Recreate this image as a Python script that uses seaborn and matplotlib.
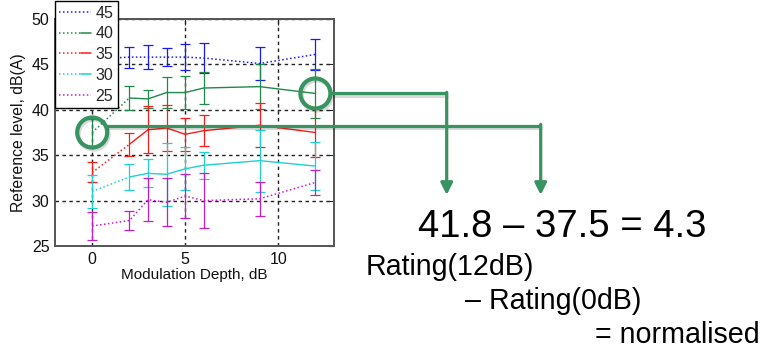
import matplotlib
matplotlib.use("Agg")
import numpy as np
import pandas as pd
import matplotlib.pyplot as plt
import matplotlib.patheffects as pe
import seaborn as sns
from matplotlib.lines import Line2D
from matplotlib.patches import Circle
from matplotlib.legend_handler import HandlerBase

# Modulation depth (dB) at which each reference level was rated
depth = [0, 2, 3, 4, 5, 6, 9, 12]
levels = ["45", "40", "35", "30", "25"]

# Mean reference level (dB(A)) and error-bar half-widths per presentation level
mean_45 = [45.6, 45.8, 45.8, 45.8, 45.8, 45.7, 45.1, 46.1]
err_45 = [1.2, 1.15, 1.3, 1.0, 1.45, 1.7, 1.8, 1.7]
mean_40 = [37.5, 41.3, 41.2, 41.9, 41.9, 42.4, 42.55, 41.8]
err_40 = [1.5, 1.3, 1.0, 1.75, 1.8, 1.8, 2.45, 2.65]
mean_35 = [33.1, 36.2, 37.8, 38.0, 37.3, 37.7, 38.3, 37.5]
err_35 = [1.1, 1.3, 2.6, 2.55, 1.8, 1.7, 2.45, 2.65]
mean_30 = [31.0, 32.6, 33.0, 32.9, 33.5, 33.9, 34.4, 33.8]
err_30 = [1.8, 1.45, 1.55, 3.45, 2.35, 1.5, 3.4, 2.6]
mean_25 = [27.2, 27.8, 30.1, 29.8, 30.5, 30.0, 30.2, 32.0]
err_25 = [1.5, 1.0, 2.35, 2.65, 2.45, 3.05, 1.9, 1.4]

x_ticks = [0, 5, 10]
y_ticks = [25, 30, 35, 40, 45, 50]

means = {"45": mean_45, "40": mean_40, "35": mean_35, "30": mean_30, "25": mean_25}
errs = {"45": err_45, "40": err_40, "35": err_35, "30": err_30, "25": err_25}

df = pd.DataFrame(
    [
        {"level": lvl, "depth": d, "mean": m, "err": e}
        for lvl in levels
        for d, m, e in zip(depth, means[lvl], errs[lvl])
    ]
)

colors = {"45": "#1a1aff", "40": "#1f8a48", "35": "#ff1a1a", "30": "#1ed0d0", "25": "#c61ec6"}
# series whose line turns solid from this depth on (dotted before it)
solid_from = {"40": 2, "35": 2, "30": 2}
DOT = (0, (1.0, 1.6))
ANN = "#37935f"

sns.set_style("white")
plt.rcParams["font.family"] = ["Liberation Sans", "DejaVu Sans"]

W, H = 765, 349
fig = plt.figure(figsize=(W / 100, H / 100), dpi=100)
ax = fig.add_axes([55 / W, (H - 246) / H, 279 / W, 227 / H])

for lvl in levels:
    d = df[df["level"] == lvl]
    c = colors[lvl]
    ax.errorbar(d["depth"], d["mean"], yerr=d["err"], fmt="none", ecolor=c,
                elinewidth=0.9, capsize=3.5, capthick=0.9, zorder=3)
    sf = solid_from.get(lvl)
    if sf is None:
        sns.lineplot(data=d, x="depth", y="mean", ax=ax, color=c, lw=1.1,
                     linestyle=DOT, errorbar=None, zorder=4)
    else:
        sns.lineplot(data=d[d["depth"] <= sf], x="depth", y="mean", ax=ax, color=c,
                     lw=1.1, linestyle=DOT, errorbar=None, zorder=4)
        sns.lineplot(data=d[d["depth"] >= sf], x="depth", y="mean", ax=ax, color=c,
                     lw=1.0, linestyle="-", errorbar=None, zorder=4)

ax.set_xlim(-2, 13)
ax.set_ylim(25, 50)
ax.set_xticks(x_ticks)
ax.set_yticks(y_ticks)
ax.grid(True, color="#222222", linestyle=(0, (2.5, 2.5)), lw=1.0)
ax.set_axisbelow(True)
ax.tick_params(direction="in", length=4, width=0.8, top=True, right=True,
               labelsize=11.5, pad=4, labelcolor="#111111")
for s in ax.spines.values():
    s.set_color("#555555")
    s.set_linewidth(1.4)
ax.set_xlabel("Modulation Depth, dB", fontsize=11, labelpad=1, color="#111111")
ax.set_ylabel("Reference level, dB(A)", fontsize=11.3, color="#111111")
ax.yaxis.set_label_coords(-0.105, 0.5)


class DotSolidHandler(HandlerBase):
    """Legend sample drawn dotted, optionally finishing with a solid stretch."""

    def __init__(self, dotted_frac):
        super().__init__()
        self.dotted_frac = dotted_frac

    def create_artists(self, legend, orig_handle, xdescent, ydescent,
                       width, height, fontsize, trans):
        y = height / 2 - ydescent
        x0 = -xdescent
        x1 = x0 + width
        xm = x0 + width * self.dotted_frac
        c = orig_handle.get_color()
        arts = [Line2D([x0, xm], [y, y], color=c, lw=1.1, linestyle=DOT, transform=trans)]
        if self.dotted_frac < 1:
            arts.append(Line2D([xm, x1], [y, y], color=c, lw=1.1, transform=trans))
        return arts


handles = [Line2D([], [], color=colors[l]) for l in levels]
hmap = {h: DotSolidHandler(0.7 if l in solid_from else 1.0) for h, l in zip(handles, levels)}
leg = ax.legend(handles, levels, loc="lower left", bbox_to_anchor=(0, (246 - 108) / 227),
                borderaxespad=0, frameon=True, fancybox=False, edgecolor="black",
                framealpha=1, handlelength=1.95, handletextpad=0.3, labelspacing=0.36,
                borderpad=0.28, fontsize=11.5, handler_map=hmap)
leg.get_frame().set_linewidth(1.0)
leg.set_zorder(10)

# Overlay in figure pixels for the worked example
over = fig.add_axes([0, 0, 1, 1], zorder=5)
over.set_xlim(0, W)
over.set_ylim(0, H)
over.axis("off")
over.patch.set_visible(False)

rating_12 = mean_40[depth.index(12)]
rating_0 = mean_40[depth.index(0)]
p12 = ax.transData.transform((12, rating_12))
p0 = ax.transData.transform((0, rating_0))

shadow = [pe.SimpleLineShadow(offset=(1.0, -1.5), alpha=0.15), pe.Normal()]
R = 15
for p in (p12, p0):
    over.add_patch(Circle(p, radius=R, fill=False, ec=ANN, lw=3.0, path_effects=shadow))

tip_y = 154
turn = [(p12, 0.0, 446.7), (p0, 7.0, 540.7)]
for p, dy, xt in turn:
    y = p[1] + dy
    xs = p[0] + np.sqrt(R ** 2 - dy ** 2)
    over.plot([xs, xt], [y, y], color=ANN, lw=2.3, solid_capstyle="butt", path_effects=shadow)
    over.annotate("", xy=(xt, tip_y), xytext=(xt, y + 1.1),
                  arrowprops=dict(arrowstyle="-|>,head_length=0.7,head_width=0.35",
                                  color=ANN, lw=2.3, shrinkA=0, shrinkB=0))

eq = f"{rating_12:.1f} – {rating_0:.1f} = {rating_12 - rating_0:.1f}"
over.text(418, H - 236.7, eq, fontsize=27.5, ha="left", va="baseline", color="black")
over.text(366, H - 275, "Rating(12dB)", fontsize=20.6, ha="left", va="baseline", color="black")
over.text(465, H - 309, "– Rating(0dB)", fontsize=20.6, ha="left", va="baseline", color="black")
over.text(595, H - 343, "= normalised", fontsize=20.6, ha="left", va="baseline", color="black")

fig.savefig("out.png", dpi=100)
